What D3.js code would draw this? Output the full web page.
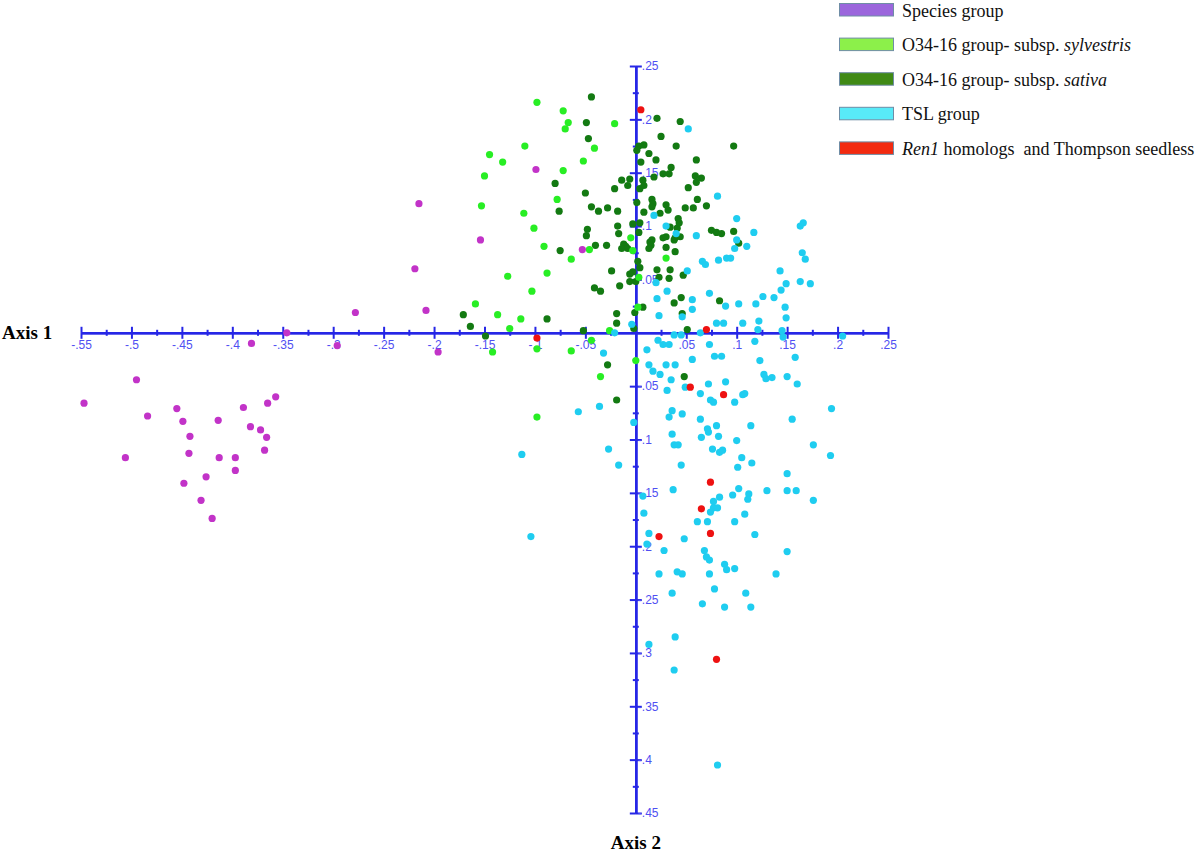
<!DOCTYPE html>
<html><head><meta charset="utf-8">
<script src="https://cdn.jsdelivr.net/npm/d3@7"></script>
<style>
html,body{margin:0;padding:0;background:#fff;}
svg{display:block;}
</style></head>
<body>
<svg id="chart" width="1200" height="853"></svg>
<script>
// ---------- DATA ----------
const xTickValues = [-0.55,-0.5,-0.45,-0.4,-0.35,-0.3,-0.25,-0.2,-0.15,-0.1,-0.05,0.05,0.1,0.15,0.2,0.25];
const xTickLabels = ["-.55","-.5","-.45","-.4","-.35","-.3","-.25","-.2","-.15","-.1","-.05",".05",".1",".15",".2",".25"];
const yTickValues = [0.25,0.2,0.15,0.1,0.05,-0.05,-0.1,-0.15,-0.2,-0.25,-0.3,-0.35,-0.4,-0.45];
const yTickLabels = [".25",".2",".15",".1",".05","-.05","-.1","-.15","-.2","-.25","-.3","-.35","-.4","-.45"];
const axisTitles = ["Axis 1","Axis 2"];

const seriesNames = [
  [["Species group",false]],
  [["O34-16 group- subsp. ",false],["sylvestris",true]],
  [["O34-16 group- subsp. ",false],["sativa",true]],
  [["TSL group",false]],
  [["Ren1",true],[" homologs  and Thompson seedless",false]]
];

const speciesGroup = [[-0.547,-0.066],[-0.495,-0.044],[-0.484,-0.078],[-0.455,-0.071],[-0.449,-0.083],[-0.442,-0.097],[-0.506,-0.117],[-0.443,-0.113],[-0.414,-0.082],[-0.389,-0.070],[-0.365,-0.066],[-0.357,-0.060],[-0.382,-0.088],[-0.372,-0.091],[-0.366,-0.098],[-0.368,-0.110],[-0.413,-0.117],[-0.397,-0.117],[-0.397,-0.129],[-0.426,-0.135],[-0.448,-0.141],[-0.431,-0.157],[-0.420,-0.174],[-0.215,0.121],[-0.099,0.153],[-0.154,0.087],[-0.053,0.078],[-0.219,0.060],[-0.208,0.021],[-0.278,0.019],[-0.346,0.000],[-0.381,-0.010],[-0.296,-0.012],[-0.196,-0.018]];

const sylvestrisGroup = [[-0.098,0.216],[-0.072,0.208],[-0.067,0.197],[-0.070,0.191],[-0.021,0.196],[-0.041,0.173],[-0.145,0.167],[-0.110,0.175],[-0.132,0.160],[-0.052,0.161],[-0.150,0.147],[-0.072,0.152],[-0.153,0.119],[-0.078,0.125],[-0.111,0.112],[-0.101,0.098],[-0.091,0.081],[-0.046,0.078],[-0.064,0.069],[-0.127,0.053],[-0.088,0.056],[-0.103,0.039],[-0.159,0.027],[-0.137,0.017],[-0.114,0.013],[-0.125,0.004],[-0.005,0.089],[-0.003,0.077],[0.002,0.024],[0.030,0.070],[-0.026,0.002],[-0.142,-0.018],[-0.098,-0.015],[-0.064,-0.017],[-0.044,-0.007],[0.000,-0.026],[-0.035,-0.041],[-0.098,-0.079],[0.003,0.052]];

const sativaGroup = [[-0.044,0.221],[-0.049,0.197],[-0.047,0.182],[-0.080,0.140],[-0.050,0.131],[-0.076,0.114],[-0.044,0.118],[-0.037,0.114],[-0.048,0.097],[-0.049,0.091],[-0.040,0.082],[-0.075,0.077],[-0.041,0.042],[-0.088,0.013],[-0.171,0.017],[-0.164,0.006],[-0.052,0.002],[-0.149,-0.003],[-0.035,0.039],[-0.028,0.117],[-0.018,0.114],[-0.021,0.135],[-0.014,0.143],[-0.008,0.138],[-0.006,0.144],[-0.018,0.100],[-0.017,0.093],[-0.029,0.082],[-0.012,0.083],[-0.010,0.081],[-0.003,0.102],[-0.024,0.058],[-0.016,0.044],[-0.006,0.055],[-0.006,0.048],[-0.019,0.018],[-0.019,0.009],[-0.002,0.004],[-0.014,0.079],[-0.008,0.079],[-0.028,-0.030],[-0.019,-0.063],[0.048,-0.041],[-0.003,0.057],[0.000,0.048],[0.002,0.067],[0.004,0.061],[0.021,0.201],[0.044,0.198],[0.025,0.184],[0.003,0.175],[0.008,0.176],[0.001,0.171],[0.013,0.168],[0.040,0.175],[0.097,0.175],[0.005,0.160],[0.020,0.162],[0.060,0.162],[0.007,0.143],[0.004,0.135],[0.008,0.138],[0.018,0.146],[0.027,0.149],[0.035,0.155],[0.033,0.149],[0.059,0.147],[0.060,0.141],[0.065,0.145],[0.052,0.136],[0.001,0.122],[0.016,0.125],[0.017,0.121],[0.016,0.118],[0.030,0.120],[0.032,0.115],[0.049,0.117],[0.057,0.117],[0.070,0.119],[0.061,0.125],[0.024,0.112],[0.008,0.113],[0.004,0.103],[0.003,0.094],[0.014,0.085],[0.016,0.087],[0.015,0.082],[0.013,0.079],[0.027,0.089],[0.030,0.090],[0.030,0.080],[0.038,0.087],[0.039,0.089],[0.044,0.090],[0.039,0.076],[0.041,0.098],[0.042,0.107],[0.043,0.103],[0.021,0.059],[0.034,0.059],[0.033,0.051],[0.023,0.052],[0.047,0.054],[0.045,0.033],[0.038,0.028],[0.007,0.024],[0.051,0.003],[0.083,0.030],[0.097,0.095],[0.102,0.084],[0.075,0.096],[0.080,0.094],[0.085,0.093],[0.046,0.018],[0.034,0.099],[-0.001,0.019]];

const tslGroup = [[0.052,0.191],[0.081,0.128],[0.018,0.110],[0.030,0.100],[0.040,0.093],[0.060,0.091],[0.100,0.107],[0.117,0.094],[0.100,0.087],[0.098,0.079],[0.110,0.081],[0.163,0.100],[0.166,0.103],[0.165,0.075],[0.168,0.069],[0.066,0.067],[0.069,0.064],[0.082,0.068],[0.090,0.070],[0.094,0.070],[0.051,0.058],[0.020,0.047],[0.143,0.058],[0.149,0.046],[0.144,0.040],[0.163,0.048],[0.173,0.046],[0.031,0.039],[0.073,0.037],[0.126,0.034],[0.137,0.033],[0.021,0.032],[0.056,0.031],[0.102,0.027],[0.119,0.027],[0.089,0.025],[0.148,0.024],[0.056,0.022],[0.046,0.015],[0.023,0.016],[0.080,0.009],[0.087,0.009],[0.106,0.009],[0.122,0.011],[0.121,0.003],[0.149,0.014],[0.064,0.000],[0.145,0.002],[0.146,-0.004],[0.205,-0.003],[0.038,-0.002],[0.045,-0.002],[-0.004,0.008],[-0.021,0.000],[0.118,-0.008],[0.073,-0.011],[0.022,-0.007],[0.027,-0.011],[0.033,-0.011],[0.011,-0.016],[-0.032,-0.019],[0.056,-0.025],[0.078,-0.022],[0.085,-0.022],[0.123,-0.026],[0.158,-0.023],[0.013,-0.030],[0.030,-0.030],[0.039,-0.030],[0.017,-0.036],[0.024,-0.039],[0.035,-0.044],[0.031,-0.054],[0.049,-0.051],[0.072,-0.048],[0.089,-0.046],[0.127,-0.039],[0.129,-0.043],[0.135,-0.042],[0.150,-0.041],[0.160,-0.048],[0.064,-0.057],[0.074,-0.063],[0.077,-0.065],[0.098,-0.065],[0.106,-0.058],[0.108,-0.057],[0.194,-0.071],[0.155,-0.081],[0.036,-0.073],[0.046,-0.076],[0.033,-0.079],[0.064,-0.081],[0.080,-0.087],[0.071,-0.090],[0.072,-0.093],[0.082,-0.097],[0.114,-0.087],[0.036,-0.095],[0.038,-0.105],[0.042,-0.105],[0.065,-0.098],[0.076,-0.109],[0.083,-0.112],[0.086,-0.110],[0.100,-0.101],[0.105,-0.117],[0.115,-0.122],[0.101,-0.126],[0.045,-0.124],[0.176,-0.105],[0.193,-0.115],[-0.057,-0.074],[-0.036,-0.069],[-0.027,-0.109],[-0.017,-0.124],[-0.002,-0.084],[-0.113,-0.114],[-0.104,-0.191],[0.037,-0.147],[0.007,-0.153],[0.008,-0.169],[0.096,-0.152],[0.102,-0.146],[0.112,-0.151],[0.111,-0.156],[0.083,-0.154],[0.077,-0.158],[0.077,-0.164],[0.074,-0.168],[0.071,-0.177],[0.061,-0.177],[0.081,-0.164],[0.108,-0.170],[0.098,-0.177],[0.130,-0.148],[0.150,-0.148],[0.159,-0.148],[0.176,-0.157],[0.150,-0.132],[0.118,-0.189],[0.013,-0.188],[0.048,-0.193],[0.011,-0.198],[0.028,-0.204],[0.068,-0.204],[0.070,-0.210],[0.073,-0.213],[0.088,-0.217],[0.090,-0.222],[0.098,-0.221],[0.150,-0.205],[0.073,-0.226],[0.023,-0.226],[0.041,-0.224],[0.046,-0.226],[0.139,-0.226],[0.036,-0.244],[0.078,-0.240],[0.109,-0.244],[0.066,-0.254],[0.088,-0.257],[0.114,-0.257],[0.013,-0.292],[0.039,-0.285],[0.038,-0.316],[0.081,-0.405]];

const ren1Group = [[0.005,0.209],[-0.098,-0.005],[0.070,0.003],[0.054,-0.051],[0.087,-0.058],[0.074,-0.140],[0.065,-0.165],[0.074,-0.188],[0.023,-0.191],[0.080,-0.306]];

const pointColors  = ["#c233c8","#28ee24","#137a12","#1fcdf0","#ee1111"];
const legendColors = ["#9b66dc","#8cf04a","#408a15","#58eaf8","#f22a10"];

// ---------- CHART ----------
const svg = d3.select("#chart");
const x = d3.scaleLinear().domain([-0.55,0.25]).range([81,888]);
const y = d3.scaleLinear().domain([0.25,-0.45]).range([66,813]);
const axisColor = "#2626e6", labelColor = "#4f4ff2";

const xMinor = xTickValues.concat([0]).sort((a,b)=>a-b).slice(0,-1).map(v=>v+0.025);
const yMinor = yTickValues.concat([0]).sort((a,b)=>a-b).slice(0,-1).map(v=>v+0.025);

function styleAxis(g){
  g.selectAll("path,line").attr("stroke",axisColor).attr("stroke-width",2);
  g.selectAll("text").attr("fill",labelColor).attr("font-family","'Liberation Sans', Arial, sans-serif").attr("font-size",12);
}

const gx = svg.append("g").attr("transform",`translate(0,${y(0)})`);
gx.append("g").call(d3.axisBottom(x).tickValues(xMinor).tickSize(3).tickSizeOuter(0).tickFormat("")).call(styleAxis);
gx.append("g").call(d3.axisTop(x).tickValues(xMinor).tickSize(3).tickSizeOuter(0).tickFormat("")).call(styleAxis);
gx.append("g").call(d3.axisTop(x).tickValues(xTickValues).tickSize(6).tickSizeOuter(0).tickFormat("")).call(styleAxis);
gx.append("g").call(d3.axisBottom(x).tickValues(xTickValues).tickSize(6).tickSizeOuter(0).tickPadding(2)
   .tickFormat((d,i)=>xTickLabels[i])).call(styleAxis);

const gy = svg.append("g").attr("transform",`translate(${x(0)},0)`);
gy.append("g").call(d3.axisLeft(y).tickValues(yMinor).tickSize(3).tickSizeOuter(0).tickFormat("")).call(styleAxis);
gy.append("g").call(d3.axisRight(y).tickValues(yMinor).tickSize(3).tickSizeOuter(0).tickFormat("")).call(styleAxis);
gy.append("g").call(d3.axisLeft(y).tickValues(yTickValues).tickSize(6).tickSizeOuter(0).tickFormat("")).call(styleAxis);
const yr = gy.append("g").call(d3.axisRight(y).tickValues(yTickValues).tickSize(6).tickSizeOuter(0).tickPadding(0)
   .tickFormat((d,i)=>yTickLabels[i])).call(styleAxis);
yr.selectAll(".tick text").attr("x",d=> d<0 ? 2 : 6);

// points
const groups = [sativaGroup, sylvestrisGroup, speciesGroup, tslGroup, ren1Group];
const groupColor = [pointColors[2], pointColors[1], pointColors[0], pointColors[3], pointColors[4]];
groups.forEach((data,gi)=>{
  svg.append("g").selectAll("circle").data(data).join("circle")
    .attr("cx",d=>x(d[0])).attr("cy",d=>y(d[1])).attr("r",3.6)
    .attr("fill",groupColor[gi]);
});

// axis titles
svg.append("text").attr("x",2).attr("y",339).text(axisTitles[0])
  .attr("font-family","'Liberation Serif','Times New Roman',serif").attr("font-weight","bold").attr("font-size",19).attr("fill","#000");
svg.append("text").attr("x",x(0)).attr("y",849).attr("text-anchor","middle").text(axisTitles[1])
  .attr("font-family","'Liberation Serif','Times New Roman',serif").attr("font-weight","bold").attr("font-size",19).attr("fill","#000");

// legend
const legend = svg.append("g");
seriesNames.forEach((parts,i)=>{
  const top = 3 + i*34.6;
  legend.append("rect").attr("x",839.5).attr("y",top+0.5).attr("width",54).attr("height",12.5)
    .attr("fill",legendColors[i]).attr("stroke","#6f8da6").attr("stroke-width",1);
  const t = legend.append("text").attr("x",902).attr("y",top+13.5)
    .attr("font-family","'Liberation Serif','Times New Roman',serif").attr("font-size",18).attr("fill","#111")
    .style("white-space","pre");
  parts.forEach(p=>{ t.append("tspan").text(p[0]).attr("font-style",p[1]?"italic":"normal"); });
});
</script>
</body></html>
